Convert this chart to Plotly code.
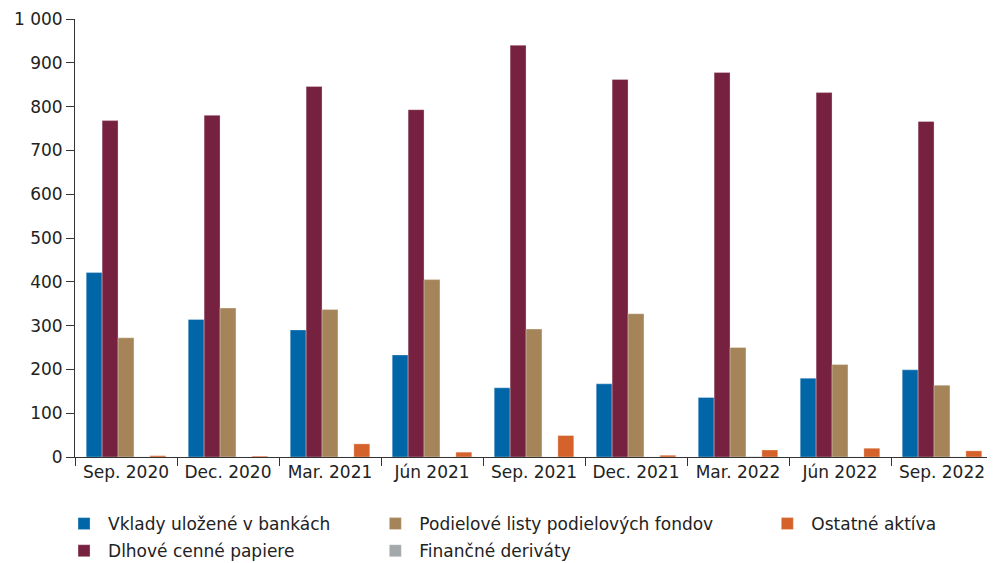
import plotly.graph_objects as go

categories = ["Sep. 2020", "Dec. 2020", "Mar. 2021", "Jún 2021", "Sep. 2021",
              "Dec. 2021", "Mar. 2022", "Jún 2022", "Sep. 2022"]

vklady = [421, 314, 290, 233, 158, 167, 136, 180, 199]
dlhove = [768, 780, 846, 793, 940, 862, 878, 832, 766]
podielove = [272, 340, 337, 405, 292, 327, 250, 211, 164]
derivaty = [0.3, 0.2, 0.2, 0.2, 0.2, 0.2, 1.0, 0.3, 0.3]
ostatne = [3, 2, 30, 11, 49, 4, 16, 20, 14]

series = [
    ("Vklady uložené v bankách", vklady, "#0066a8", "legend", 1),
    ("Dlhové cenné papiere", dlhove, "#75213f", "legend", 2),
    ("Podielové listy podielových fondov", podielove, "#a5845a", "legend2", 1),
    ("Finančné deriváty", derivaty, "#a3a8ab", "legend2", 2),
    ("Ostatné aktíva", ostatne, "#d4622a", "legend3", 1),
]

fig = go.Figure()
for i, (name, vals, color, leg, rank) in enumerate(series):
    fig.add_trace(go.Bar(
        x=categories, y=vals, name=name, legend=leg, legendrank=rank,
        legendgroup=f"g{i}",
        marker=dict(color=color, line=dict(color="rgba(255,255,255,0.6)", width=0.5)),
    ))

font = "DejaVu Sans, Noto Sans, sans-serif"
fsize = 17
legend_common = dict(orientation="v", yanchor="top", y=-0.112, xanchor="left",
                     font=dict(family=font, size=fsize, color="#222"),
                     bgcolor="rgba(0,0,0,0)", tracegroupgap=2, itemwidth=38)

# page body has an 8px margin: shrink the figure so the plot lands where the reference's does
fig.update_layout(
    width=987, height=555,
    margin=dict(l=67, r=2, t=11, b=106, autoexpand=False),
    paper_bgcolor="white", plot_bgcolor="white",
    barmode="group", bargap=0.22, bargroupgap=0,
    separators=", ",
    font=dict(family=font, size=fsize, color="#222"),
    legend=dict(x=-0.0163, **legend_common),
    legend2=dict(x=0.3228, **legend_common),
    legend3=dict(x=0.7498, **legend_common),
    xaxis=dict(showline=True, linecolor="#333", linewidth=1, ticks="outside",
               tickson="boundaries", ticklen=8, tickcolor="#333", showgrid=False,
               automargin=False,
               tickfont=dict(family=font, size=fsize, color="#222")),
    yaxis=dict(range=[0, 1000], dtick=100, tickformat=",d", showline=True,
               linecolor="#333", linewidth=1, ticks="outside", ticklen=8,
               tickcolor="#333", showgrid=False, zeroline=False, automargin=False,
               tickfont=dict(family=font, size=fsize, color="#222")),
)

fig.write_html("out.html")
